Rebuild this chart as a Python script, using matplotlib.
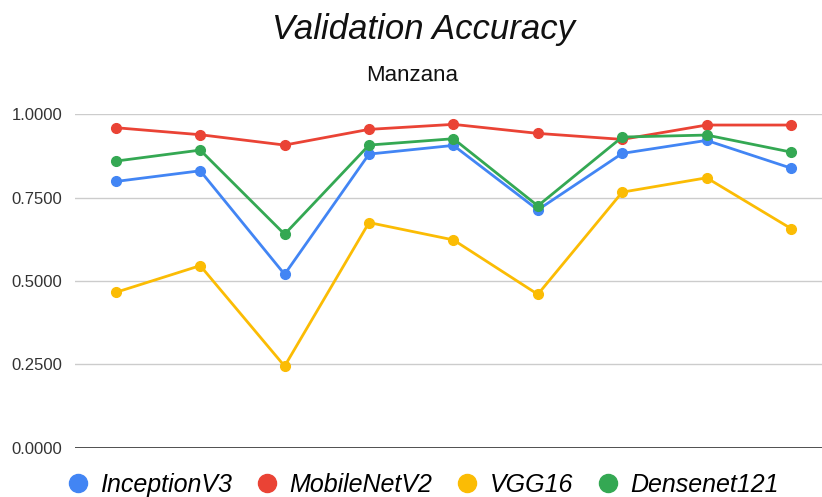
import numpy as np
import matplotlib
matplotlib.use("Agg")
import matplotlib.pyplot as plt
from matplotlib.lines import Line2D

plt.rcParams['font.family'] = ['Liberation Sans', 'DejaVu Sans']

modelos = ["InceptionV3", "MobileNetV2", "VGG16", "Densenet121"]
colores = ["#4285F4", "#EA4335", "#FBBC04", "#34A853"]

inception = [0.798, 0.830, 0.520, 0.880, 0.906, 0.713, 0.882, 0.921, 0.838]
mobilenet = [0.959, 0.938, 0.907, 0.954, 0.969, 0.942, 0.924, 0.967, 0.967]
vgg16 = [0.466, 0.546, 0.245, 0.675, 0.623, 0.460, 0.766, 0.809, 0.657]
densenet = [0.859, 0.892, 0.640, 0.907, 0.926, 0.725, 0.931, 0.937, 0.886]

yticks = [0.0, 0.25, 0.5, 0.75, 1.0]

series = [inception, mobilenet, vgg16, densenet]
x = np.arange(len(inception))

fig = plt.figure(figsize=(8.22, 4.97), dpi=100)
ax = fig.add_axes([0.091, 0.0986, 0.909, 0.672])

for datos, color in zip(series, colores):
    ax.plot(x, datos, color=color, lw=2.0, marker="o", ms=7, zorder=3)

ax.set_ylim(0, 1)
ax.set_xlim(-0.486, 8.367)
ax.set_yticks(yticks)
ax.set_yticklabels(["%.4f" % v for v in yticks], fontsize=12, color="#333333")
ax.set_xticks([])
ax.tick_params(axis="y", length=0, pad=9)
ax.grid(axis="y", color="#cccccc", lw=1.0)
ax.axhline(0, color="#333333", lw=1.2, zorder=2)
for s in ax.spines.values():
    s.set_visible(False)

fig.text(0.515, 0.94, "Validation Accuracy", ha="center", va="center",
         fontsize=25, style="italic", color="#111111")
fig.text(0.501, 0.849, "Manzana", ha="center", va="center",
         fontsize=16, color="#111111")

handles = [Line2D([], [], ls="none", marker="o", ms=13, color=c) for c in colores]
fig.legend(handles, modelos, loc="center", bbox_to_anchor=(0.512, 0.024),
           ncol=4, frameon=False, prop={"size": 18, "style": "italic"},
           handletextpad=0.3, columnspacing=0.8, handlelength=1.2)

fig.savefig("out.png", dpi=100)
